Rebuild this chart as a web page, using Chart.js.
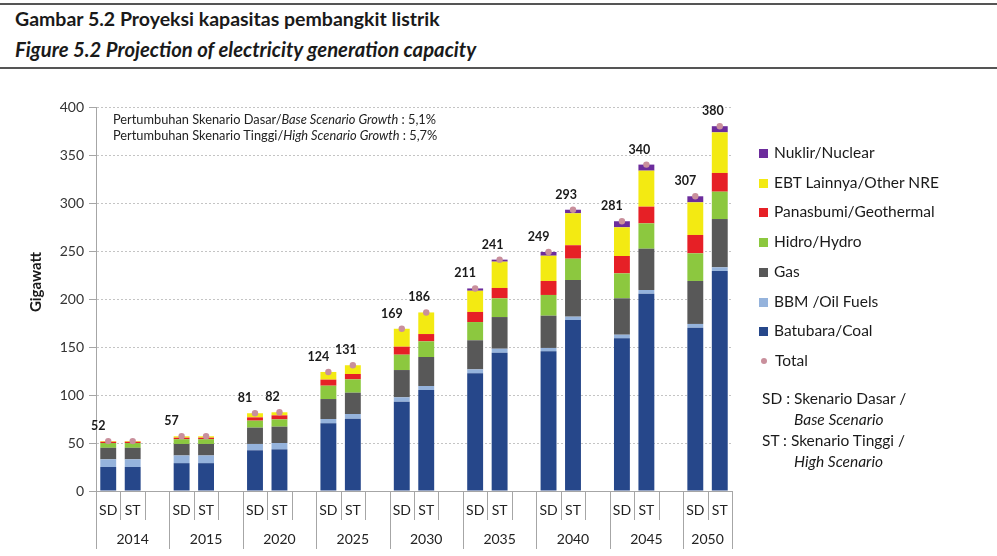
<!DOCTYPE html>
<html>
<head>
<meta charset="utf-8">
<script src="https://cdn.jsdelivr.net/npm/chart.js@4.4.1/dist/chart.umd.min.js"></script>
<style>
    body { margin: 0; background: #fff; font-family: Lato, "Open Sans", sans-serif; color: #1a1a1a; }
    #wrap { position: relative; width: 997px; height: 556px; overflow: hidden; }
    #myChart { position: absolute; left: 0; top: 0; }
    .rule { position: absolute; left: 0; width: 997px; height: 2px; background: #555; }
    .title { position: absolute; left: 15px; font-weight: bold; white-space: nowrap; }
    .note { position: absolute; left: 113px; font-size: 12.8px; white-space: nowrap; color: #222; }
    .legend { position: absolute; left: 759px; font-size: 15.5px; white-space: nowrap; }
    .legend .item { position: absolute; left: 0; height: 20px; line-height: 20px; }
    .legend .box { display: inline-block; width: 9px; height: 9px; margin-right: 6px; vertical-align: 0px; }
    .legend .dot { display: inline-block; width: 6px; height: 6px; border-radius: 50%; margin: 0 8px 0 2px; vertical-align: 2px; }
    .scen { position: absolute; left: 762px; font-size: 15.5px; white-space: nowrap; }
</style>
</head>
<body>
<div id="wrap">
    <div class="rule" style="top:3px"></div>
    <div class="title" style="top:7px;font-size:19.5px">Gambar 5.2 Proyeksi kapasitas pembangkit listrik</div>
    <div class="title" style="top:37px;font-size:20.3px;font-style:italic">Figure 5.2 Projection of electricity generation capacity</div>
    <div class="rule" style="top:67px"></div>

    <canvas id="myChart" width="997" height="556"></canvas>

    <div class="note" style="top:111px">Pertumbuhan Skenario Dasar/<i>Base Scenario Growth</i> : 5,1%</div>
    <div class="note" style="top:127px">Pertumbuhan Skenario Tinggi/<i>High Scenario Growth</i> : 5,7%</div>

    <div class="legend" id="legend"></div>

    <div class="scen" style="top:389px">SD : Skenario Dasar /</div>
    <div class="scen" style="top:410px;left:794px"><i>Base Scenario</i></div>
    <div class="scen" style="top:431px">ST : Skenario Tinggi /</div>
    <div class="scen" style="top:452px;left:794px"><i>High Scenario</i></div>
</div>

<script>
// data - each array is SD, ST pairs per year
const years = ['2014', '2015', '2020', '2025', '2030', '2035', '2040', '2045', '2050'];
const scenarios = ['SD', 'ST'];

const coal = [25, 25, 29, 29, 42.4, 43.4, 70.5, 75.3, 93, 105.2, 122.6, 144, 145.5, 178.1, 159, 205.5, 170.1, 229.2];
const oil = [8, 8, 8, 8, 6.6, 6.6, 4.5, 4.9, 4.6, 4.2, 4.1, 4.2, 3.5, 3.5, 3.8, 3.9, 3.9, 3.8];
const gas = [12, 12, 12, 12, 17, 17, 20.8, 22.2, 28.4, 30.2, 30.3, 33, 33.6, 38.2, 37.9, 43, 44.8, 50.3];
const hydro = [5, 5, 5, 5, 7.3, 7.6, 13.9, 13.9, 16, 16.3, 19, 19.5, 21.6, 22.2, 26, 26.4, 28.8, 28.5];
const geothermal = [1.3, 1.3, 1.5, 1.5, 3.4, 4.2, 6.3, 5.6, 8.3, 7.6, 10.5, 10.8, 14.6, 14, 18.1, 17.4, 19.1, 19.5];
const otherNre = [0.7, 0.7, 1.5, 1.5, 4.3, 3.2, 8, 9.1, 18.7, 22.5, 22.1, 27.4, 26.3, 33.3, 29.9, 37.5, 34, 42.3];
const nuclear = [0, 0, 0, 0, 0, 0, 0, 0, 0, 0, 2.4, 2.1, 3.9, 3.7, 6.3, 6.3, 6.3, 6.4];
const totals = [52, 52, 57, 57, 81, 82, 124, 131, 169, 186, 211, 241, 249, 293, 281, 340, 307, 380];
// 2014 and 2015 only carry one label for both scenarios
const totalLabels = ['52', null, '57', null, '81', '82', '124', '131', '169', '186', '211', '241', '249', '293', '281', '340', '307', '380'];

const yTicks = { min: 0, max: 400, step: 50 };

// build the slot list: SD, ST, gap for every year (no gap after the last one)
const slots = [];
years.forEach((yr, g) => {
    scenarios.forEach((s, k) => slots.push({ label: s, idx: g * 2 + k, year: g }));
    if (g < years.length - 1) slots.push({ label: '', idx: null, year: g });
});
const categories = slots.map(s => s.label);
const spread = arr => slots.map(s => s.idx === null ? null : arr[s.idx]);

const series = [
    { label: 'Batubara/Coal', data: coal, color: '#26478a' },
    { label: 'BBM /Oil Fuels', data: oil, color: '#95b3dc' },
    { label: 'Gas', data: gas, color: '#585858' },
    { label: 'Hidro/Hydro', data: hydro, color: '#8cc83f' },
    { label: 'Panasbumi/Geothermal', data: geothermal, color: '#e62026' },
    { label: 'EBT Lainnya/Other NRE', data: otherNre, color: '#f3ea12' },
    { label: 'Nuklir/Nuclear', data: nuclear, color: '#6c2c9c' }
];
const totalColor = '#c98f9c';

// legend (html), top item is nuclear
const legend = document.getElementById('legend');
const legendItems = series.slice().reverse();
legendItems.forEach((s, i) => {
    const el = document.createElement('div');
    el.className = 'item';
    el.style.top = (142 + i * 29.7) + 'px';
    el.innerHTML = '<span class="box" style="background:' + s.color + '"></span>' + s.label;
    legend.appendChild(el);
});
const tot = document.createElement('div');
tot.className = 'item';
tot.style.top = (142 + 7 * 29.7) + 'px';
tot.innerHTML = '<span class="dot" style="background:' + totalColor + '"></span>Total';
legend.appendChild(tot);

// x axis: separators, SD/ST and years + y title
const xAxisPlugin = {
    id: 'xAxisPlugin',
    afterDraw(chart) {
        const c = chart.ctx;
        const xs = chart.scales.x;
        const base = chart.scales.y.getPixelForValue(0);
        const half = (xs.getPixelForValue(1) - xs.getPixelForValue(0)) / 2;
        const edge = i => i < slots.length ? xs.getPixelForValue(i) - half : xs.getPixelForValue(slots.length - 1) + half;
        c.save();
        c.strokeStyle = '#a6a6a6';
        c.lineWidth = 1;
        for (let i = 0; i <= slots.length; i++) {
            const groupEdge = i === slots.length || i % 3 === 0;
            const px = Math.round(edge(i)) + 0.5;
            c.beginPath();
            c.moveTo(px, base);
            c.lineTo(px, groupEdge ? base + 58 : base + 29);
            c.stroke();
        }
        c.fillStyle = '#222';
        c.font = '14px Lato, "Open Sans", sans-serif';
        c.textAlign = 'center';
        c.textBaseline = 'middle';
        slots.forEach((s, i) => {
            if (s.label) c.fillText(s.label, xs.getPixelForValue(i), base + 19);
        });
        years.forEach((yr, g) => {
            const first = g * 3;
            const last = Math.min(first + 3, slots.length);
            c.fillText(yr, (edge(first) + edge(last)) / 2, base + 48);
        });
        // axis title, sits a bit above the middle like the original
        c.translate(36, 282);
        c.rotate(-Math.PI / 2);
        c.fillStyle = '#1a1a1a';
        c.font = 'bold 15px Lato, "Open Sans", sans-serif';
        c.fillText('Gigawatt', 0, 0);
        c.restore();
    }
};

// total numbers above the bars
const totalLabelPlugin = {
    id: 'totalLabelPlugin',
    afterDatasetsDraw(chart) {
        const c = chart.ctx;
        const xs = chart.scales.x;
        const ys = chart.scales.y;
        c.save();
        c.fillStyle = '#1a1a1a';
        c.font = 'bold 12.5px Lato, "Open Sans", sans-serif';
        c.textAlign = 'center';
        c.textBaseline = 'middle';
        slots.forEach((s, i) => {
            if (s.idx === null || !totalLabels[s.idx]) return;
            const shift = s.label === 'SD' ? -10 : -7;
            c.fillText(totalLabels[s.idx], xs.getPixelForValue(i) + shift, ys.getPixelForValue(totals[s.idx]) - 15);
        });
        c.restore();
    }
};

const datasets = series.map(s => ({
    type: 'bar',
    label: s.label,
    data: spread(s.data),
    backgroundColor: s.color,
    borderWidth: 0,
    barPercentage: 0.65,
    categoryPercentage: 1.0,
    stack: 'mix',
    order: 1
}));
datasets.push({
    type: 'line',
    label: 'Total',
    data: spread(totals),
    showLine: false,
    pointRadius: 3.2,
    pointBackgroundColor: totalColor,
    pointBorderWidth: 0,
    stack: 'total',
    order: 0
});

const ctx = document.getElementById('myChart').getContext('2d');
const capacityChart = new Chart(ctx, {
    data: { labels: categories, datasets: datasets },
    plugins: [xAxisPlugin, totalLabelPlugin],
    options: {
        responsive: false,
        animation: false,
        layout: { padding: { top: 107, right: 265, left: 0, bottom: 0 } },
        plugins: {
            legend: { display: false },
            tooltip: { enabled: false }
        },
        scales: {
            x: {
                stacked: true,
                grid: { display: false },
                ticks: { display: false },
                border: { display: true, color: '#a6a6a6' },
                afterFit: scale => { scale.height = 65; }
            },
            y: {
                stacked: true,
                min: yTicks.min,
                max: yTicks.max,
                ticks: {
                    stepSize: yTicks.step,
                    color: '#333',
                    padding: 5,
                    font: { family: 'Lato, "Open Sans", sans-serif', size: 14 }
                },
                grid: {
                    color: '#c4c4c4',
                    tickColor: '#a6a6a6',
                    tickLength: 7,
                    tickBorderDash: [],
                    borderDash: [2, 2]
                },
                border: { color: '#a6a6a6', dash: [2, 2] },
                afterFit: scale => { scale.width = 96; }
            }
        }
    }
});
</script>
</body>
</html>
